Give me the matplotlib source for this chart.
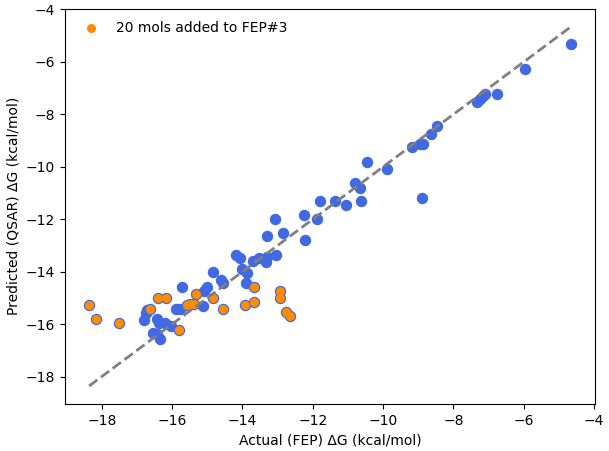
import numpy as np
import matplotlib
matplotlib.use("Agg")
import matplotlib.pyplot as plt

# molecules already in the FEP set (blue only)
base_actual = [-16.80, -16.75, -16.72, -16.54, -16.44, -16.42, -16.37, -16.35, -16.20, -16.02,
               -15.88, -15.78, -15.73, -15.12, -15.10, -15.02, -14.84, -14.61, -14.55, -14.17,
               -14.07, -14.00, -13.88, -13.91, -13.70, -13.52, -13.32, -13.30, -13.05, -13.30,
               -13.08, -12.84, -12.25, -12.22, -11.87, -11.78, -11.37, -11.04, -10.64, -10.79,
               -10.66, -10.47, -9.90, -8.90, -9.19, -8.95, -8.87, -8.65, -8.46, -7.34,
               -7.24, -7.15, -7.10, -6.77, -5.96, -4.65]
base_pred = [-15.84, -15.56, -15.46, -16.35, -16.38, -15.80, -15.94, -16.55, -15.94, -16.07,
             -15.42, -15.42, -14.60, -15.29, -14.75, -14.60, -14.03, -14.31, -14.43, -13.35,
             -13.47, -13.90, -14.05, -14.43, -13.61, -13.48, -13.64, -13.44, -13.35, -12.65,
             -11.98, -12.54, -11.85, -12.80, -11.98, -11.31, -11.31, -11.47, -11.31, -10.60,
             -10.79, -9.81, -10.09, -11.18, -9.26, -9.13, -9.13, -8.75, -8.43, -7.51,
             -7.41, -7.28, -7.22, -7.22, -6.26, -5.33]

# 20 molecules added to FEP#3
added_actual = [-18.36, -18.17, -17.52, -16.64, -16.39, -16.18, -15.79, -15.58, -15.48, -15.39,
                -15.33, -14.83, -14.55, -13.94, -13.68, -13.68, -12.92, -12.92, -12.76, -12.65]
added_pred = [-15.28, -15.81, -15.95, -15.41, -15.01, -15.01, -16.22, -15.26, -15.25, -15.23,
              -14.84, -15.01, -15.41, -15.28, -14.59, -15.14, -14.73, -15.01, -15.52, -15.69]

all_actual = np.array(base_actual + added_actual)
all_pred = np.array(base_pred + added_pred)

fig = plt.figure(figsize=(6.09, 4.51), dpi=100)
ax = fig.add_axes([0.1067, 0.1042, 0.8708, 0.8768])

ax.scatter(all_actual, all_pred, s=52, color='royalblue')
ax.scatter(added_actual, added_pred, s=30, color='darkorange', label='20 mols added to FEP#3')

lo, hi = all_actual.min(), all_actual.max()
ax.plot([lo, hi], [lo, hi], '--', color='gray', linewidth=2)

ax.set_xlabel('Actual (FEP) ΔG (kcal/mol)')
ax.set_ylabel('Predicted (QSAR) ΔG (kcal/mol)')
ax.legend(loc='upper left', frameon=False)

fig.savefig('out.png', dpi=100)
